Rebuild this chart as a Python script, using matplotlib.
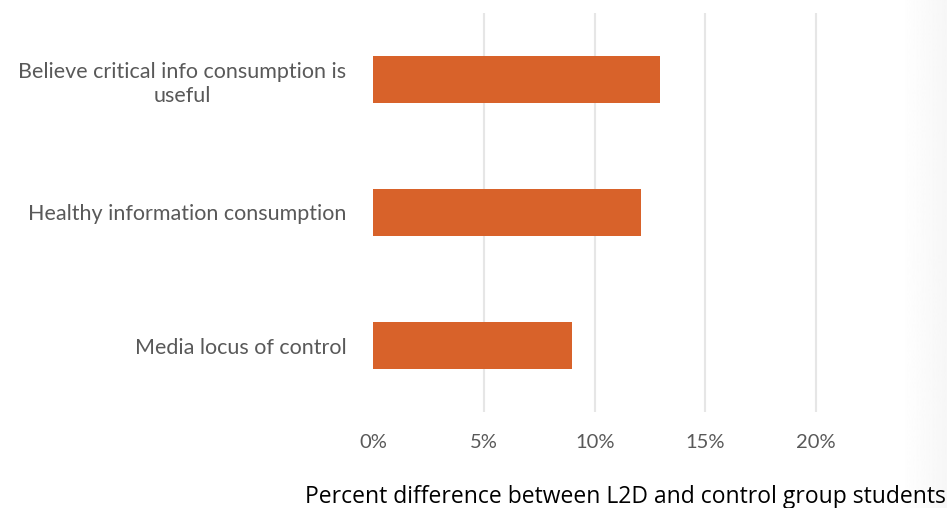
import matplotlib

matplotlib.use("Agg")
import matplotlib.pyplot as plt  # noqa: E402
import numpy as np  # noqa: E402
from matplotlib.ticker import FuncFormatter  # noqa: E402

# data, top to bottom as in the chart
categories = [
    "Believe critical info consumption is\nuseful",
    "Healthy information consumption",
    "Media locus of control",
]
values = [12.95, 12.1, 9.0]  # percent
xticks = [0, 5, 10, 15, 20]

BAR = "#D8622A"
GRID = "#E6E6E6"
TXT = "#595959"

fig = plt.figure(figsize=(9.47, 5.08), dpi=100)

# faint shadow on the right edge of the slide
shade = fig.add_axes([900 / 947, 0, 47 / 947, 1], zorder=-1)
shade.imshow(np.linspace(1.0, 0.965, 64)[None, :], cmap="gray", vmin=0, vmax=1,
             aspect="auto", extent=(0, 1, 0, 1))
shade.axis("off")

ax = fig.add_axes([373 / 947, 1 - 412 / 508, 1 - 373 / 947, 399 / 508])
ax.patch.set_alpha(0)

pos = list(range(len(categories)))[::-1]
ax.barh(pos, values, height=0.36, color=BAR, zorder=3)
ax.set_ylim(-0.5, len(categories) - 0.5)
ax.set_xlim(0, 25.9)

ax.set_xticks(xticks)
ax.xaxis.set_major_formatter(FuncFormatter(lambda v, _: f"{v:.0f}%"))
ax.set_yticks(pos)
ax.set_yticklabels(categories, ha="right", multialignment="center", linespacing=1.3)
ax.tick_params(axis="y", length=0, pad=19, labelsize=15.5, labelcolor=TXT)
ax.tick_params(axis="x", length=0, pad=16, labelsize=14.5, labelcolor=TXT)
for lbl in ax.get_xticklabels() + ax.get_yticklabels():
    lbl.set_fontfamily("Lato")

ax.grid(axis="x", color=GRID, linewidth=1.5, zorder=0)
ax.get_xgridlines()[0].set_visible(False)
for s in ax.spines.values():
    s.set_visible(False)

fig.text(625 / 947, 1 - 497 / 508, "Percent difference between L2D and control group students",
         ha="center", va="center", fontsize=16.5, family="Open Sans", color="#000000")

fig.savefig("out.png", dpi=100, facecolor="white")
